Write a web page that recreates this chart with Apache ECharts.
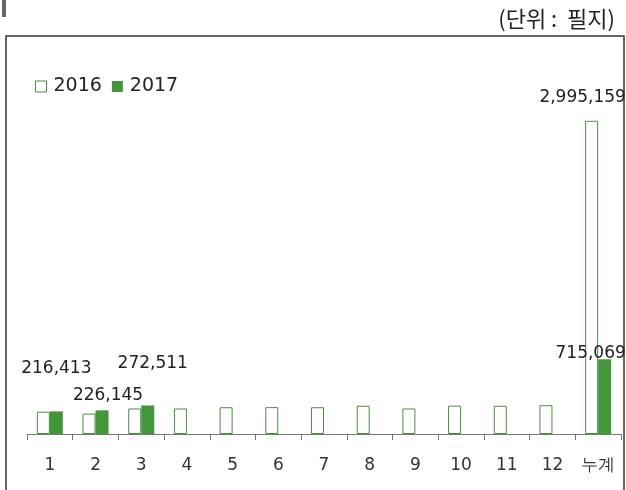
<!DOCTYPE html>
<html>
<head>
<meta charset="utf-8">
<script src="https://cdn.jsdelivr.net/npm/echarts@6/dist/echarts.min.js"></script>
<style>
  html, body { margin: 0; padding: 0; background: #fff; }
  #chart { width: 626px; height: 490px; }
</style>
</head>
<body>
<div id="chart"></div>
<script>
  // 카테고리와 값
  const categories = ['1', '2', '3', '4', '5', '6', '7', '8', '9', '10', '11', '12', '누계'];
  const values2016 = [213000, 195000, 244000, 244000, 256000, 257000, 256000, 270000, 244000, 271000, 270000, 275159, 2995159];
  const values2017 = [216413, 226145, 272511, null, null, null, null, null, null, null, null, null, 715069];

  // 라벨 위치 보정 (index -> [dx, dy])
  const labelOffset2017 = { 0: [0, -29], 1: [6, -1], 2: [5, -28], 12: [-14, 8] };
  const labelOffset2016 = { 12: [-9, -10] };

  const green = '#43973a';
  const outline = '#4f8a45';
  const labelFont = { fontFamily: 'DejaVu Sans', fontSize: 17, color: '#222' };

  const fmt = v => v.toLocaleString('en-US');

  const data2016 = values2016.map((v, i) => {
    const item = { value: v };
    if (labelOffset2016[i]) {
      item.label = { show: true, position: 'top', offset: labelOffset2016[i], formatter: p => fmt(p.value), ...labelFont };
    }
    return item;
  });
  const data2017 = values2017.map((v, i) => {
    const item = { value: v };
    if (labelOffset2017[i]) {
      item.label = { show: true, position: 'top', offset: labelOffset2017[i], formatter: p => fmt(p.value), ...labelFont };
    }
    return item;
  });

  const myChart = echarts.init(document.getElementById('chart'));

  const option = {
    animation: false,
    backgroundColor: '#fff',
    textStyle: { fontFamily: 'DejaVu Sans' },
    graphic: [
      { type: 'rect', left: 2, top: 0, shape: { width: 4, height: 17 }, style: { fill: '#666' } },
      { type: 'rect', shape: { x: 6, y: 36, width: 618, height: 500 }, style: { fill: 'none', stroke: '#333', lineWidth: 1.5 } },
      { type: 'text', right: 11, top: 8, style: { text: '(단위 :  필지)', font: '22px "Noto Sans CJK KR"', fill: '#222' } }
    ],
    legend: {
      left: 30,
      top: 72,
      itemWidth: 11,
      itemHeight: 11,
      itemGap: 10,
      textStyle: { fontFamily: 'DejaVu Sans', fontSize: 19, color: '#222', padding: [0, 0, 0, 2] },
      data: [
        { name: '2016', icon: 'rect', itemStyle: { color: '#fff', borderColor: outline, borderWidth: 1 } },
        { name: '2017', icon: 'rect', itemStyle: { color: green } }
      ]
    },
    grid: { left: 27, right: 5, top: 68, bottom: 56 },
    xAxis: {
      type: 'category',
      data: categories,
      axisLine: { lineStyle: { color: '#777', width: 1 } },
      axisTick: { show: true, inside: false, length: 6, lineStyle: { color: '#777' } },
      axisLabel: { margin: 23, fontFamily: 'DejaVu Sans', fontSize: 17, color: '#333' }
    },
    yAxis: {
      type: 'value',
      min: 0,
      max: 3500000,
      show: false,
      splitLine: { show: false }
    },
    series: [
      {
        name: '2016',
        type: 'bar',
        data: data2016,
        barWidth: 13,
        barGap: '0%',
        itemStyle: { color: '#fff', borderColor: outline, borderWidth: 1 }
      },
      {
        name: '2017',
        type: 'bar',
        data: data2017,
        barWidth: 13,
        barGap: '0%',
        itemStyle: { color: green }
      }
    ]
  };

  myChart.setOption(option);
</script>
</body>
</html>
